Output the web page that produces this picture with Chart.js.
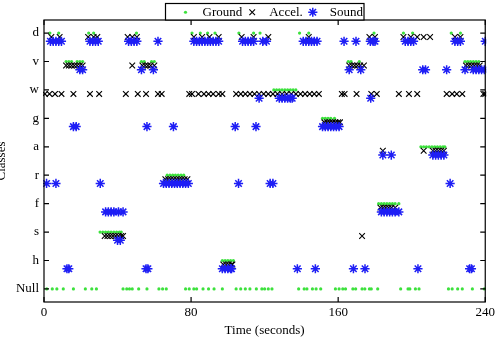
<!DOCTYPE html>
<html>
<head>
<meta charset="utf-8">
<script src="https://cdn.jsdelivr.net/npm/chart.js@4/dist/chart.umd.min.js"></script>
<style>
  body { margin: 0; background: #fff; }
</style>
</head>
<body>
<canvas id="classChart" width="498" height="344"></canvas>
<script>
// class labels, bottom to top
const classes = ['Null', 'h', 's', 'f', 'r', 'a', 'g', 'w', 'v', 'd'];
const xTicks = [0, 80, 160, 240];

// time (seconds) of each detection, per class
const groundRows = [
    ['d', [3.2, 8, 24.3, 27, 50.3, 80.5, 85, 89, 93, 106, 114, 117.5, 139, 144, 179.5, 195.5, 200.5, 221.5, 226.5]],
    ['v', [12, 13.5, 15, 18, 19.5, 21, 53, 54.5, 58.5, 60, 165.5, 167, 171.5, 229, 230.5, 232, 233.5, 235, 236.5]],
    ['w', [125, 126.5, 128, 129.5, 131, 132.5, 134, 135.5, 137]],
    ['g', [151.5, 153, 154.5, 156, 158]],
    ['a', [205, 206.5, 208, 209.5, 211, 212.5, 214, 215.5, 217, 218]],
    ['r', [67, 68.5, 70, 71.5, 73, 74.5, 76]],
    ['f', [182, 183.5, 185, 186.5, 188, 189.5, 191, 193]],
    ['s', [30.5, 32, 33.5, 35, 36.5, 38, 39.5, 41, 42]],
    ['h', [97, 98.5, 100, 101.5, 103]],
    ['Null', [1.5, 4.5, 7, 10.5, 16, 22.5, 26, 28.5, 43, 45, 46.5, 48, 51.5, 56, 62.5, 64.5, 66.5, 77, 79, 81.5, 83,
              86.5, 89.5, 92.5, 97, 104.5, 107, 109.5, 112, 115.5, 118.5, 120, 122, 124, 138.5, 141.5, 143, 146, 148,
              150.5, 158.5, 160.5, 162.5, 164, 168, 169.5, 173, 174.5, 177, 178, 181.5, 194, 198, 199, 202, 204, 220,
              222, 225, 227.5, 233, 239.5]]
];

const accelRows = [
    ['d', [4, 8.5, 24, 27, 29, 45.5, 48, 50.5, 81.5, 86, 90, 95, 107.5, 114, 122, 144, 177, 180, 195.5, 199.5, 203,
           206.5, 210, 223.5, 226.5]],
    ['v', [12, 13.5, 15, 16.5, 18, 19.5, 21, 48, 53.5, 55, 56.5, 58, 60, 166, 167.5, 169, 170.5, 172, 174, 229.5, 231,
           232.5, 234, 235.5, 237]],
    ['w', [0.5, 3, 6, 9.5, 16, 25, 30, 44.5, 51, 55.5, 62, 64, 79, 80.5, 84, 87, 89.5, 92, 95, 97, 104.5, 107, 109.5,
           112, 114.5, 117, 119.5, 122, 124.5, 127, 129.5, 132, 134.5, 137, 139.5, 142, 144.5, 147, 149.5, 162, 163.5,
           170, 178, 181, 193, 198.5, 203, 219, 222, 224.5, 227.5, 239, 240]],
    ['g', [152.5, 154, 155.5, 157, 158.5, 160, 161]],
    ['a', [184.3, 206.5, 211.5, 213, 214.5, 216, 217.5]],
    ['r', [66, 67.5, 69, 70.5, 72, 73.5, 75, 76.5, 78]],
    ['f', [183, 184.5, 186, 187.5, 189, 191]],
    ['s', [33, 34.5, 36, 37.5, 39, 40.5, 42, 43, 173]],
    ['h', [97.5, 99, 100.5, 102, 102.5]]
];

const soundRows = [
    ['d', [3.5, 5, 6.5, 8, 9.5, 25, 26.5, 28, 29.5, 46, 47.5, 49, 50.5, 62, 81.5, 83, 84.5, 86, 87.5, 89, 90.5, 92,
           93.5, 95, 108, 109.5, 111, 112.5, 114, 119, 121, 141, 142.5, 144, 145.5, 147, 148.5, 163.2, 169.7, 177.5,
           179, 180, 196.5, 198, 199.5, 201, 223.5, 225, 226.5, 240]],
    ['v', [19.5, 21, 53, 59.5, 166, 172.3, 206, 207.5, 219, 229, 233.5, 235, 236.5, 238, 239.5]],
    ['w', [117, 128, 129.5, 131, 132.5, 134, 135, 177.7]],
    ['g', [16, 17.5, 56, 70.4, 104, 115.3, 151.5, 153, 154.5, 156, 157.5, 159, 160.5]],
    ['a', [184.3, 188.9, 211.5, 213, 214.5, 216, 217.5]],
    ['r', [1.4, 6.5, 30.6, 65, 66.5, 68, 69.5, 71, 72.5, 74, 75.5, 77, 78.5, 105.8, 123, 124.5, 220.9]],
    ['f', [33.5, 35, 36.5, 38, 40.5, 43, 183.5, 185, 186.5, 188, 189.5, 191, 193]],
    ['s', [40, 41.5]],
    ['h', [12.5, 13.5, 55.5, 56.5, 97, 98.5, 100, 101.5, 102, 137.8, 147.6, 168.3, 174.6, 203.4, 231.5, 232.5]]
];

// vertical shift of each sensor inside a class row
const groundShift = 0;
const accelShift = -0.14;
const soundShift = -0.29;

function toPoints(rows, shift) {
    let pts = [];
    rows.forEach(function (row) {
        let level = classes.indexOf(row[0]);
        row[1].forEach(function (t) {
            pts.push({x: t, y: level + shift});
        });
    });
    return pts;
}

const serif = 'Liberation Serif';
Chart.defaults.font.family = serif;
Chart.defaults.font.size = 13;
Chart.defaults.color = '#000';

// box round the plot, with ticks pointing inward
const framePlugin = {
    id: 'frame',
    afterDatasetsDraw(chart) {
        const {ctx, chartArea: a, scales} = chart;
        ctx.save();
        ctx.strokeStyle = '#000';
        ctx.lineWidth = 1.2;
        ctx.strokeRect(a.left, a.top, a.right - a.left, a.bottom - a.top);
        ctx.beginPath();
        classes.forEach(function (c, i) {
            let py = scales.y.getPixelForValue(i);
            ctx.moveTo(a.left, py);
            ctx.lineTo(a.left + 5, py);
            ctx.moveTo(a.right, py);
            ctx.lineTo(a.right - 5, py);
        });
        xTicks.forEach(function (v) {
            let px = scales.x.getPixelForValue(v);
            ctx.moveTo(px, a.bottom);
            ctx.lineTo(px, a.bottom - 5);
            ctx.moveTo(px, a.top);
            ctx.lineTo(px, a.top + 5);
        });
        ctx.stroke();
        ctx.restore();
    }
};

// boxed legend sitting on the top edge of the plot
const legendPlugin = {
    id: 'boxLegend',
    afterDraw(chart) {
        const {ctx, chartArea: a} = chart;
        const sets = chart.data.datasets;
        ctx.save();
        ctx.font = '13px "' + serif + '"';
        let widths = sets.map(ds => ctx.measureText(ds.label).width);
        let total = 20;
        widths.forEach((w, i) => { total += 17 + w + (i < widths.length - 1 ? 10 : 1); });
        let left = Math.round((a.left + a.right) / 2 - total / 2) + 0.5;
        let top = 3.5, bottom = a.top;
        let cy = (top + bottom) / 2 + 0.5;
        ctx.fillStyle = '#fff';
        ctx.fillRect(left, top, total, bottom - top);
        ctx.strokeStyle = '#000';
        ctx.lineWidth = 1.2;
        ctx.strokeRect(left, top, total, bottom - top);
        let cx = left + 20;
        sets.forEach(function (ds, i) {
            ctx.fillStyle = ds.backgroundColor;
            ctx.strokeStyle = ds.borderColor;
            ctx.lineWidth = ds.borderWidth;
            Chart.helpers.drawPoint(ctx, {
                pointStyle: ds.pointStyle,
                radius: ds.pointRadius,
                borderWidth: ds.borderWidth,
                rotation: 0
            }, cx, cy);
            ctx.fillStyle = '#000';
            ctx.textAlign = 'left';
            ctx.textBaseline = 'middle';
            ctx.fillText(ds.label, cx + 17, cy);
            cx += 17 + widths[i] + 10;
        });
        ctx.restore();
    }
};

let ctx = document.getElementById('classChart');
let myChart = new Chart(ctx, {
    type: 'scatter',
    data: {
        datasets: [{
            label: 'Ground',
            data: toPoints(groundRows, groundShift),
            pointStyle: 'circle',
            pointRadius: 1.6,
            borderWidth: 0,
            backgroundColor: 'rgb(60, 225, 60)',
            borderColor: 'rgb(60, 225, 60)',
            order: 2
        }, {
            label: 'Accel.',
            data: toPoints(accelRows, accelShift),
            pointStyle: 'crossRot',
            pointRadius: 4,
            borderWidth: 1.1,
            backgroundColor: '#000',
            borderColor: '#000',
            order: 1
        }, {
            label: 'Sound',
            data: toPoints(soundRows, soundShift),
            pointStyle: 'star',
            pointRadius: 4.6,
            borderWidth: 1.5,
            backgroundColor: 'rgb(30, 30, 245)',
            borderColor: 'rgb(30, 30, 245)',
            order: 0
        }]
    },
    options: {
        responsive: false,
        animation: false,
        events: [],
        devicePixelRatio: 1,
        clip: 1,
        layout: {padding: {left: 0, right: 10, top: 20, bottom: 0}},
        plugins: {
            legend: {display: false},
            tooltip: {enabled: false}
        },
        scales: {
            x: {
                type: 'linear',
                min: 0,
                max: 240,
                afterBuildTicks: s => { s.ticks = xTicks.map(v => ({value: v})); },
                afterFit: s => { s.height = 42; },
                ticks: {padding: 3, maxRotation: 0},
                grid: {display: false, drawTicks: false},
                border: {display: false},
                title: {display: true, text: 'Time (seconds)', padding: {top: 0, bottom: 5.5}}
            },
            y: {
                type: 'linear',
                min: -0.46,
                max: 9.46,
                afterBuildTicks: s => { s.ticks = classes.map((c, i) => ({value: i})); },
                afterFit: s => { s.width = 44; },
                ticks: {padding: 5, callback: v => classes[v]},
                grid: {display: false, drawTicks: false},
                border: {display: false},
                title: {display: true, text: 'Classes', padding: {top: -6, bottom: 0}}
            }
        }
    },
    plugins: [framePlugin, legendPlugin]
});
</script>
</body>
</html>
